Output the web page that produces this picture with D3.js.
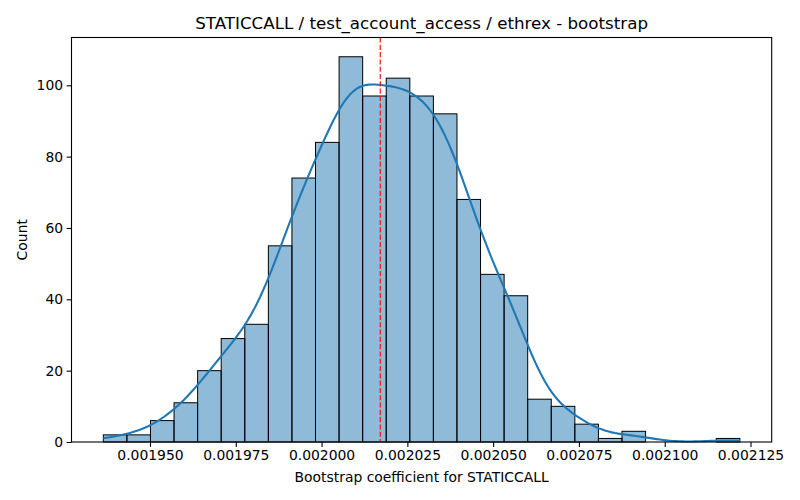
<!DOCTYPE html>
<html>
<head>
<meta charset="utf-8">
<script src="https://cdn.jsdelivr.net/npm/d3@7"></script>
<style>
    body { margin: 0; background: #fff; }
    text { font-family: "DejaVu Sans", sans-serif; fill: #000; }
</style>
</head>
<body>
<svg id="chart" width="800" height="500"></svg>
<script>
// histogram counts, 27 equal bins between the bootstrap min and max
var binCounts = [2, 2, 6, 11, 20, 29, 33, 55, 74, 84, 108, 97, 102, 97,
                 92, 68, 47, 41, 12, 10, 5, 1, 3, 0, 0, 0, 1];
var dataRange = [0.0019364, 0.0021219];
var pointEstimate = 0.0020171;
var xTicks = [0.001950, 0.001975, 0.002000, 0.002025, 0.002050, 0.002075, 0.002100, 0.002125];
var yTicks = [0, 20, 40, 60, 80, 100];

var titleText = "STATICCALL / test_account_access / ethrex - bootstrap",
    xLabel = "Bootstrap coefficient for STATICCALL",
    yLabel = "Count";

var width = 800, height = 500,
    margin = {top: 37.5, right: 28.3, bottom: 58, left: 71.5},
    innerW = width - margin.left - margin.right,
    innerH = height - margin.top - margin.bottom;

var nBins = binCounts.length,
    binWidth = (dataRange[1] - dataRange[0]) / nBins,
    bins = binCounts.map(function(c, i) {
        return {x0: dataRange[0] + i * binWidth,
                x1: dataRange[0] + (i + 1) * binWidth,
                count: c};
    });

// kde of the binned sample (scott bandwidth), scaled to counts
function kdeLine() {
    var n = d3.sum(binCounts),
        centers = bins.map(function(b) { return (b.x0 + b.x1) / 2; }),
        mean = d3.sum(centers, function(c, i) { return c * binCounts[i]; }) / n,
        variance = d3.sum(centers, function(c, i) {
            return binCounts[i] * (c - mean) * (c - mean);
        }) / (n - 1),
        bw = Math.sqrt(variance) * Math.pow(n, -0.2),
        pts = [];
    for (var k = 0; k < 200; k++) {
        var x = dataRange[0] + k * (dataRange[1] - dataRange[0]) / 199,
            dens = 0;
        centers.forEach(function(c, i) {
            var z = (x - c) / bw;
            dens += binCounts[i] * Math.exp(-0.5 * z * z);
        });
        dens = dens / (n * bw * Math.sqrt(2 * Math.PI));
        pts.push([x, dens * n * binWidth]);
    }
    return pts;
}

var pad = (dataRange[1] - dataRange[0]) * 0.05,
    xScale = d3.scaleLinear()
        .domain([dataRange[0] - pad, dataRange[1] + pad])
        .range([0, innerW]),
    yScale = d3.scaleLinear()
        .domain([0, d3.max(binCounts) * 1.05])
        .range([innerH, 0]);

var svg = d3.select("#chart"),
    g = svg.append("g")
        .attr("transform", "translate(" + margin.left + "," + margin.top + ")");

g.selectAll(".bar")
    .data(bins)
    .enter()
    .append("rect")
    .attr("class", "bar")
    .attr("x", function(d) { return xScale(d.x0); })
    .attr("width", function(d) { return xScale(d.x1) - xScale(d.x0); })
    .attr("y", function(d) { return yScale(d.count); })
    .attr("height", function(d) { return yScale(0) - yScale(d.count); })
    .attr("fill", "#1f77b4")
    .attr("fill-opacity", 0.5)
    .attr("stroke", "#000")
    .attr("stroke-width", 1);

g.append("path")
    .datum(kdeLine())
    .attr("fill", "none")
    .attr("stroke", "#1f77b4")
    .attr("stroke-width", 2.08)
    .attr("d", d3.line()
        .x(function(d) { return xScale(d[0]); })
        .y(function(d) { return yScale(d[1]); }));

g.append("line")
    .attr("x1", xScale(pointEstimate))
    .attr("x2", xScale(pointEstimate))
    .attr("y1", 0)
    .attr("y2", innerH)
    .attr("stroke", "red")
    .attr("stroke-width", 1.1)
    .attr("stroke-dasharray", "5.1,2.2");

// axes
var xAxis = g.append("g")
    .attr("transform", "translate(0," + innerH + ")")
    .call(d3.axisBottom(xScale)
        .tickValues(xTicks)
        .tickFormat(d3.format(".6f"))
        .tickSize(4.9)
        .tickPadding(3.5)
        .tickSizeOuter(0));

var yAxis = g.append("g")
    .call(d3.axisLeft(yScale)
        .tickValues(yTicks)
        .tickSize(4.9)
        .tickPadding(3.5)
        .tickSizeOuter(0));

[xAxis, yAxis].forEach(function(a) {
    a.select(".domain").remove();
    a.selectAll(".tick line").attr("stroke", "#000").attr("stroke-width", 1.1);
    a.selectAll(".tick text")
        .attr("font-family", "DejaVu Sans")
        .attr("font-size", "13.9px")
        .attr("fill", "#000");
});

g.append("rect")
    .attr("width", innerW)
    .attr("height", innerH)
    .attr("fill", "none")
    .attr("stroke", "#000")
    .attr("stroke-width", 1.1);

svg.append("text")
    .attr("x", margin.left + innerW / 2)
    .attr("y", 29)
    .attr("text-anchor", "middle")
    .attr("font-size", "16.7px")
    .text(titleText);

svg.append("text")
    .attr("x", margin.left + innerW / 2)
    .attr("y", 482)
    .attr("text-anchor", "middle")
    .attr("font-size", "13.9px")
    .text(xLabel);

svg.append("text")
    .attr("transform", "translate(27," + (margin.top + innerH / 2) + ") rotate(-90)")
    .attr("text-anchor", "middle")
    .attr("font-size", "13.9px")
    .text(yLabel);
</script>
</body>
</html>
